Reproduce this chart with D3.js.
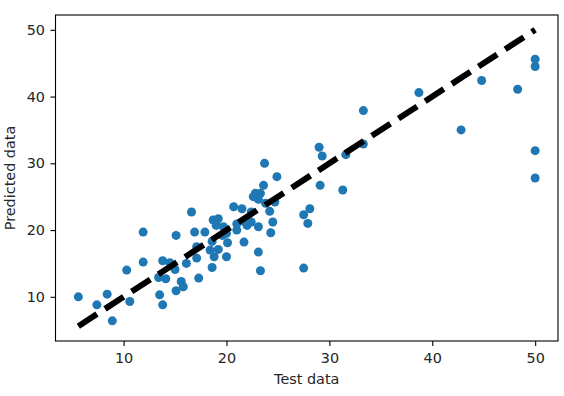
<!DOCTYPE html>
<html>
<head>
<meta charset="utf-8">
<script src="https://cdn.jsdelivr.net/npm/d3@7"></script>
<style>
  body { margin: 0; background: #fff; }
  text { font-family: "DejaVu Sans", sans-serif; fill: #262626; }
</style>
</head>
<body>
<div id="chart"></div>
<script>

// test values vs model predictions
var y_test = [5.6, 7.4, 8.4, 8.9, 10.6, 10.3, 11.9, 11.9, 13.5, 13.8,
  13.4, 13.8, 14.1, 15.1, 14.5, 15.0, 15.1, 15.6, 15.8, 16.1,
  16.6, 16.9, 17.1, 17.1, 17.3, 18.6, 18.7, 19.2, 19.0, 19.7,
  20.7, 21.5, 21.7, 21.7, 21.0, 20.1, 20.0, 18.6, 18.4, 19.2,
  18.8, 19.6, 17.9, 20.0, 21.0, 22.4, 22.4, 22.0, 22.8, 23.3,
  23.1, 23.8, 24.7, 24.2, 24.5, 24.3, 23.1, 23.1, 23.3, 23.6,
  23.7, 24.9, 22.6, 27.5, 28.1, 27.9, 27.5, 29.0, 29.3, 29.1,
  31.3, 31.6, 33.3, 33.3, 38.7, 44.8, 48.3, 42.8, 50, 50,
  50, 50]

var y_pred = [10.0, 8.8, 10.4, 6.4, 9.3, 14.0, 19.7, 15.2, 10.3, 8.8,
  12.9, 15.4, 12.7, 19.2, 15.1, 14.1, 10.9, 12.3, 11.5, 15.0,
  22.7, 19.7, 17.5, 15.8, 12.8, 14.4, 21.5, 21.7, 20.7, 20.5,
  23.5, 23.2, 21.3, 18.2, 20.0, 18.1, 16.0, 18.3, 17.0, 17.1,
  16.0, 19.2, 19.7, 19.5, 20.9, 21.2, 22.7, 20.7, 25.5, 25.5,
  24.6, 24.0, 24.2, 22.8, 21.2, 19.6, 20.5, 16.7, 13.9, 26.7,
  30.0, 28.0, 25.0, 22.3, 23.2, 21.0, 14.3, 32.4, 31.1, 26.7,
  26.0, 31.3, 37.9, 32.9, 40.6, 42.4, 41.1, 35.0, 45.6, 44.5,
  31.9, 27.8]

var x_ticks = [10, 20, 30, 40, 50]
var y_ticks = [10, 20, 30, 40, 50]

var x_label = "Test data"
var y_label = "Predicted data"

// matplotlib style 5% margin around the data
function padded(ext) {
  var r = ext[1] - ext[0]
  return [ext[0] - 0.05 * r, ext[1] + 0.05 * r]
}

function draw_chart(div_id) {
  var width = 564
  var height = 396
  var left = 55.5, right = 558, top = 15, bottom = 341

  var svg = d3.select("div#" + div_id)
    .append("svg")
    .attr("width", width)
    .attr("height", height)

  // the y=x reference line runs from min to max of the test values
  var line_ends = d3.extent(y_test)
  var x = d3.scaleLinear()
    .domain(padded(line_ends))
    .range([left, right])
  var y = d3.scaleLinear()
    .domain(padded(d3.extent(y_pred.concat(line_ends))))
    .range([bottom, top])

  // scatter points
  svg.append("g")
    .selectAll("circle")
    .data(y_test)
    .enter()
    .append("circle")
    .attr("cx", function (d) { return x(d) })
    .attr("cy", function (d, i) { return y(y_pred[i]) })
    .attr("r", 4.5)
    .style("fill", "#1f77b4")

  // dashed black line y = x
  svg.append("path")
    .datum(line_ends)
    .attr("d", function (d) {
      return "M" + x(d[0]) + "," + y(d[0]) + "L" + x(d[1]) + "," + y(d[1])
    })
    .style("fill", "none")
    .style("stroke", "#000")
    .style("stroke-width", 6)
    .style("stroke-dasharray", "22.2,9.6")

  // axes
  var xAxis = svg.append("g")
    .attr("transform", "translate(0," + bottom + ")")
    .call(d3.axisBottom(x).tickValues(x_ticks).tickSize(5).tickPadding(6.5))
  var yAxis = svg.append("g")
    .attr("transform", "translate(" + left + ",0)")
    .call(d3.axisLeft(y).tickValues(y_ticks).tickSize(5).tickPadding(5.5))

  ;[xAxis, yAxis].forEach(function (ax) {
    ax.select(".domain").remove()
    ax.selectAll("line").style("stroke", "#000").style("stroke-width", 1.1)
    ax.selectAll("text")
      .style("font-size", "14.4px")
      .style("font-family", "DejaVu Sans")
      .style("fill", "#262626")
  })

  // frame
  svg.append("rect")
    .attr("x", left)
    .attr("y", top)
    .attr("width", right - left)
    .attr("height", bottom - top)
    .style("fill", "none")
    .style("stroke", "#000")
    .style("stroke-width", 1.1)

  svg.append("text")
    .attr("x", (left + right) / 2)
    .attr("y", 384)
    .attr("text-anchor", "middle")
    .style("font-size", "14.4px")
    .text(x_label)

  svg.append("text")
    .attr("transform", "translate(14.5," + (top + bottom) / 2 + ") rotate(-90)")
    .attr("text-anchor", "middle")
    .style("font-size", "14.4px")
    .text(y_label)
}

draw_chart("chart")
</script>
</body>
</html>
